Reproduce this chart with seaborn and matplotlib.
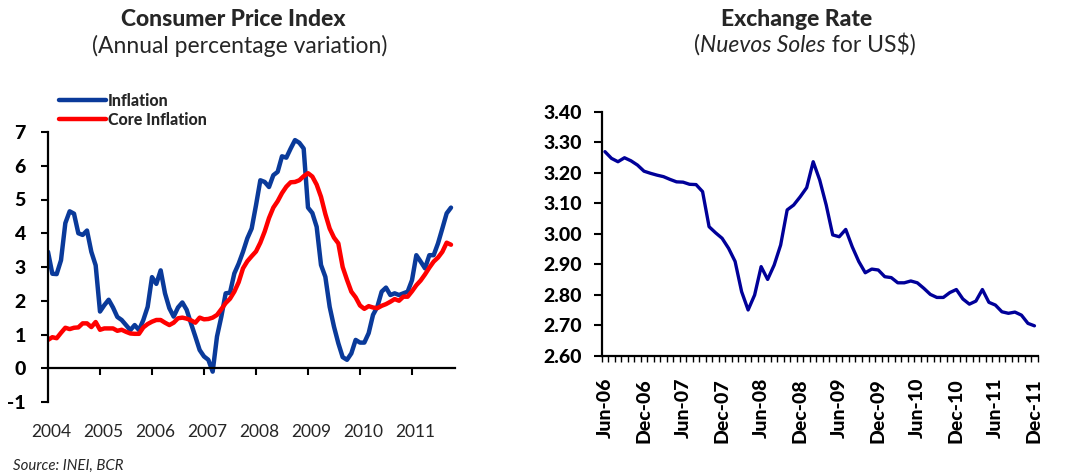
import numpy as np
import pandas as pd
import matplotlib
matplotlib.use('Agg')
import matplotlib.pyplot as plt
import seaborn as sns

# CPI, annual % variation, monthly from Jan-2004
INFLATION = [3.45, 2.80, 2.79, 3.20, 4.30, 4.65, 4.58, 4.00, 3.95, 4.08,
             3.45, 3.05, 1.68, 1.87, 2.03, 1.80, 1.52, 1.43, 1.28, 1.13,
             1.28, 1.13, 1.43, 1.82, 2.70, 2.50, 2.90, 2.22, 1.78, 1.53,
             1.80, 1.95, 1.73, 1.33, 0.94, 0.54, 0.35, 0.25, -0.10, 0.94,
             1.53, 2.22, 2.24, 2.81, 3.10, 3.45, 3.85, 4.14, 4.83, 5.57,
             5.52, 5.37, 5.72, 5.82, 6.28, 6.24, 6.51, 6.76, 6.68, 6.51,
             4.76, 4.60, 4.19, 3.06, 2.71, 1.82, 1.23, 0.74, 0.33, 0.25,
             0.44, 0.84, 0.76, 0.76, 1.04, 1.58, 1.82, 2.27, 2.39, 2.17,
             2.22, 2.17, 2.22, 2.27, 2.61, 3.35, 3.16, 2.96, 3.35, 3.35,
             3.70, 4.14, 4.59, 4.76]
CORE_INFLATION = [0.84, 0.92, 0.89, 1.05, 1.20, 1.16, 1.20, 1.21, 1.33, 1.33,
                  1.22, 1.37, 1.14, 1.18, 1.18, 1.18, 1.11, 1.14, 1.08, 1.03,
                  1.02, 1.02, 1.21, 1.31, 1.38, 1.43, 1.43, 1.35, 1.28, 1.35,
                  1.48, 1.50, 1.47, 1.42, 1.35, 1.50, 1.45, 1.46, 1.50, 1.58,
                  1.75, 1.93, 2.06, 2.27, 2.55, 2.96, 3.17, 3.32, 3.46, 3.72,
                  4.05, 4.45, 4.76, 4.95, 5.19, 5.38, 5.51, 5.52, 5.57, 5.69,
                  5.78, 5.68, 5.44, 5.08, 4.57, 4.14, 3.87, 3.70, 3.00, 2.62,
                  2.27, 2.10, 1.86, 1.76, 1.84, 1.80, 1.78, 1.85, 1.90, 1.97,
                  2.05, 2.00, 2.12, 2.12, 2.28, 2.46, 2.60, 2.78, 2.98, 3.16,
                  3.28, 3.45, 3.72, 3.66]
YEARS = list(range(2004, 2012))

# Exchange rate, Nuevos Soles per US$, monthly from Jun-2006
FX_RATE = [3.269, 3.247, 3.236, 3.249, 3.239, 3.225, 3.205, 3.198, 3.192, 3.187,
           3.178, 3.170, 3.169, 3.162, 3.161, 3.138, 3.023, 3.003, 2.985, 2.952,
           2.909, 2.810, 2.750, 2.799, 2.892, 2.850, 2.897, 2.963, 3.078, 3.094,
           3.121, 3.151, 3.236, 3.176, 3.094, 2.996, 2.990, 3.014, 2.957, 2.909,
           2.872, 2.884, 2.881, 2.859, 2.856, 2.839, 2.839, 2.845, 2.839, 2.821,
           2.801, 2.791, 2.791, 2.807, 2.817, 2.786, 2.769, 2.779, 2.817, 2.775,
           2.766, 2.744, 2.739, 2.743, 2.733, 2.706, 2.698]
FX_LABELS = ['Jun-06', 'Dec-06', 'Jun-07', 'Dec-07', 'Jun-08', 'Dec-08',
             'Jun-09', 'Dec-09', 'Jun-10', 'Dec-10', 'Jun-11', 'Dec-11']

sns.set_theme(style='white')
plt.rcParams['font.family'] = ['Lato', 'DejaVu Sans']

W, H = 1070, 475
HEAVY = 'black'
fig = plt.figure(figsize=(W / 100, H / 100), dpi=100)

# ---- left panel: CPI ----
cpi = pd.DataFrame({
    't': 2004 + np.arange(len(INFLATION)) / 12,
    'Inflation': INFLATION,
    'Core Inflation': CORE_INFLATION,
})
cpi_long = cpi.melt('t', var_name='series', value_name='value')

ax1 = fig.add_axes([48 / W, 1 - 402 / H, 407 / W, 270 / H])
sns.lineplot(data=cpi_long, x='t', y='value', hue='series',
             hue_order=['Inflation', 'Core Inflation'],
             palette={'Inflation': '#0a3a9a', 'Core Inflation': '#ff0000'},
             linewidth=3.2, ax=ax1)
ax1.set_xlim(2004, 2004 + 407 / 52)
ax1.set_ylim(-1, 7)
ax1.set_yticks(range(-1, 8))
ax1.set_yticklabels([str(v) for v in range(-1, 8)], fontweight=HEAVY, fontsize=14)
ax1.set_xticks(YEARS[1:])
ax1.set_xticklabels([])
ax1.spines['bottom'].set_position(('data', 0))
for s in ['top', 'right']:
    ax1.spines[s].set_visible(False)
for s in ['left', 'bottom']:
    ax1.spines[s].set_color('black')
    ax1.spines[s].set_linewidth(1.6)
ax1.tick_params(axis='both', direction='out', length=5, width=1.5,
                bottom=True, left=True, colors='black')
ax1.tick_params(axis='y', pad=11)
ax1.set_xlabel('')
ax1.set_ylabel('')
for yr in YEARS:
    ax1.text(yr + 0.06, -1.9, str(yr), ha='center', va='center',
             fontsize=12.5, clip_on=False)
handles, labels = ax1.get_legend_handles_labels()
ax1.legend(handles, labels, loc='upper left', bbox_to_anchor=(0.028, 1.145),
           frameon=False, borderpad=0, borderaxespad=0, labelspacing=0.2,
           handlelength=2.9, handletextpad=0.15,
           prop={'weight': HEAVY, 'size': 11.5})

# ---- right panel: exchange rate ----
fx = pd.DataFrame({'m': np.arange(len(FX_RATE)), 'rate': FX_RATE})
ax2 = fig.add_axes([601.7 / W, 1 - 355.7 / H, 436 / W, 244 / H])
sns.lineplot(data=fx, x='m', y='rate', color='#000099', linewidth=2.4, ax=ax2)
ax2.set_xlim(-0.5, len(FX_RATE) - 0.5)
ax2.set_ylim(2.6, 3.4)
yt = np.round(np.arange(2.6, 3.41, 0.1), 2)
ax2.set_yticks(yt)
ax2.set_yticklabels([f'{v:.2f}' for v in yt], fontweight=HEAVY, fontsize=14)
ax2.set_xticks(np.arange(-0.5, len(FX_RATE), 1), minor=True)
ax2.set_xticks(range(0, len(FX_RATE), 6))
ax2.set_xticklabels(FX_LABELS, rotation=90, fontweight=HEAVY, fontsize=14)
for s in ['top', 'right']:
    ax2.spines[s].set_visible(False)
for s in ['left', 'bottom']:
    ax2.spines[s].set_color('black')
    ax2.spines[s].set_linewidth(1.6)
ax2.tick_params(axis='y', direction='out', length=6, width=1.5, left=True,
                colors='black', pad=8)
ax2.tick_params(axis='x', which='major', length=0, pad=16, bottom=True,
                colors='black')
ax2.tick_params(axis='x', which='minor', direction='out', length=4, width=1,
                bottom=True, colors='black')
ax2.set_xlabel('')
ax2.set_ylabel('')

# ---- titles ----
fig.text(233 / W, 1 - 20 / H, 'Consumer Price Index', ha='center', va='center',
         fontsize=16.5, fontweight=HEAVY)
fig.text(240 / W, 1 - 46 / H, '(Annual percentage variation)', ha='center',
         va='center', fontsize=16.5)
fig.text(797 / W, 1 - 20 / H, 'Exchange Rate', ha='center', va='center',
         fontsize=16.5, fontweight=HEAVY)

# subtitle with italic part, pieces share one baseline
renderer = fig.canvas.get_renderer()
parts = [('(', 'normal'), ('Nuevos Soles', 'italic'), (' for US$)', 'normal')]
texts = [fig.text(0, 1 - 52 / H, s, fontstyle=st, fontsize=16.5, va='baseline')
         for s, st in parts]
widths = [t.get_window_extent(renderer).width for t in texts]
x = 805 - sum(widths) / 2
for t, w in zip(texts, widths):
    t.set_x(x / W)
    x += w

fig.text(13 / W, 1 - 466 / H, 'Source: INEI, BCR', ha='left', va='center',
         fontsize=10.8, fontstyle='italic')

fig.savefig('out.png', dpi=100)
